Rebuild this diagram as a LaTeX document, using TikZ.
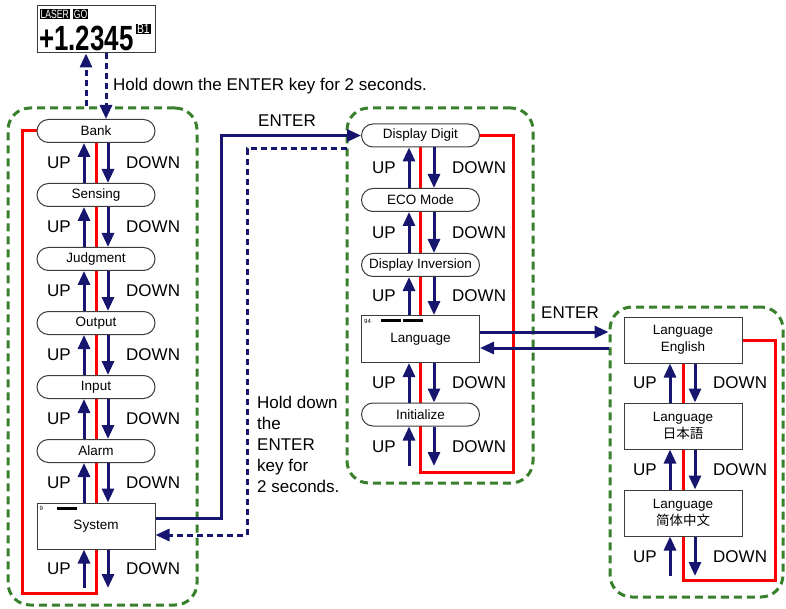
\documentclass[tikz,border=0pt]{standalone}
\usepackage{fontspec}
\setmainfont{Liberation Sans}
\newfontfamily\cjkjp{Noto Sans CJK JP}
\newfontfamily\cjksc{Noto Sans CJK SC}
\usetikzlibrary{arrows.meta,backgrounds,calc}
\definecolor{navy}{RGB}{22,22,110}
\definecolor{grn}{RGB}{56,128,44}
\definecolor{rd}{RGB}{255,0,0}
\definecolor{boxgray}{RGB}{60,60,60}
\tikzset{
  pill/.style={draw=boxgray, line width=1pt, fill=white, rounded corners=11.5pt,
    minimum width=118pt, minimum height=23pt, inner sep=0pt,
    font=\fontsize{13.5}{16}\selectfont},
  sq/.style={draw=boxgray, line width=1pt, fill=white, minimum width=118pt,
    minimum height=46pt, inner sep=0pt, align=center,
    font=\fontsize{13.5}{17}\selectfont},
  grp/.style={draw=grn, line width=3pt, dash pattern=on 8pt off 5pt,
    rounded corners=22pt, inner sep=0pt},
  nav/.style={navy, line width=3pt},
  tip/.style={-{Triangle[length=14pt,width=12pt]}},
  navdash/.style={navy, line width=3pt, dash pattern=on 6pt off 4pt},
  lbl/.style={font=\fontsize{17}{21}\selectfont, inner sep=0pt},
  redln/.style={rd, line width=3pt},
  inv/.style={fill=black, text=white, inner sep=0.8pt},
  tiny/.style={font=\fontsize{6}{6}\selectfont, inner sep=0pt},
  bar/.style={fill=black}
}
\begin{document}
\begin{tikzpicture}[x=1pt,y=-1pt]
\useasboundingbox (0,0) rectangle (786,609);

% group frames
\node[grp, minimum width=189pt, minimum height=497pt] (grpL) at (102.5,356.5) {};
\node[grp, minimum width=186pt, minimum height=375pt] (grpM) at (440,295.5) {};
\node[grp, minimum width=173pt, minimum height=290pt] (grpR) at (696.5,452) {};

% display
\node[draw=boxgray, line width=1pt, fill=white, minimum width=118pt, minimum height=47pt, inner sep=0pt] (disp) at (96,29.5) {};
\node[inv, anchor=north west] (laser) at ([shift={(3pt,-3.5pt)}]disp.north west) {\scalebox{0.72}[1]{\fontsize{12}{12}\selectfont LASER}};
\node[inv, anchor=west] (go) at ([xshift=3pt]laser.east) {\scalebox{0.72}[1]{\fontsize{12}{12}\selectfont GO}};
\node[anchor=base west, inner sep=0pt] (num) at (39,51) {\scalebox{0.74}[1]{\fontsize{35}{35}\selectfont\bfseries +1.2345}};
\node[inv, anchor=north west] (b1) at (136,23.5) {\scalebox{0.8}[1]{\fontsize{13}{13}\selectfont B1}};

% left column
\node[pill] (bank) at (96,131) {Bank};
\node[pill] (sens) at (96,195) {Sensing};
\node[pill] (judg) at (96,259) {Judgment};
\node[pill] (outp) at (96,323) {Output};
\node[pill] (inp)  at (96,387) {Input};
\node[pill] (alarm) at (96,451) {Alarm};
\node[sq] (sys) at (96,526) {System};
\node[tiny, anchor=north west] (s9) at ([shift={(3pt,-4pt)}]sys.north west) {9};
\fill[bar] ([shift={(20pt,-4pt)}]sys.north west) rectangle ++(20,3);
\coordinate (lbot) at (96,588);

% middle column
\node[pill] (dd) at (420.5,135.5) {Display Digit};
\node[pill] (eco) at (420.5,200) {ECO Mode};
\node[pill] (dinv) at (420.5,265) {Display Inversion};
\node[sq, minimum height=47pt] (lang) at (420.5,339) {Language};
\node[pill] (init) at (420.5,414.5) {Initialize};
\node[tiny, anchor=north west] (s94) at ([shift={(3pt,-4pt)}]lang.north west) {94};
\fill[bar] ([shift={(20pt,-4pt)}]lang.north west) rectangle ++(20,3);
\fill[bar] ([shift={(42pt,-4pt)}]lang.north west) rectangle ++(20,3);
\coordinate (mbot) at (420.5,466);

% right column
\node[sq] (le) at (683,340) {Language\\English};
\node[sq] (lj) at (683,426) {Language\\{\cjkjp 日本語}};
\node[sq] (lc) at (683,513) {Language\\{\cjksc 简体中文}};
\coordinate (rbot) at (683,576);

% red loops
\begin{pgfonlayer}{background}
\coordinate (lred) at (22,593);
\coordinate (mred) at (513,472);
\coordinate (rred) at (775,580);
\draw[redln] (bank.west) -| (lred) -| (bank.south);
\draw[redln] (dd.east) -| (mred) -| (dd.south);
\draw[redln] (le.east) -| (rred) -| (le.south);
\end{pgfonlayer}

% up/down pairs
\foreach \a/\b/\o/\p in {bank/sens/12/12, sens/judg/12/12, judg/outp/12/12, outp/inp/12/12,
    inp/alarm/12/12, alarm/sys/12/12, sys/lbot/12/12,
    dd/eco/11.5/13.5, eco/dinv/11.5/13.5, dinv/lang/11.5/13.5, lang/init/11.5/13.5, init/mbot/11.5/13.5,
    le/lj/13/12, lj/lc/13/12, lc/rbot/13/12}{
  \draw[nav, tip] ([xshift=-\o pt]\b.north) -- ([xshift=-\o pt]\a.south);
  \draw[nav, tip] ([xshift=\p pt]\a.south) -- ([xshift=\p pt]\b.north);
  \node[lbl, anchor=east] at ($([xshift=-\o pt-13pt]\a.south)!0.5!([xshift=-\o pt-13pt]\b.north)$) {UP};
  \node[lbl, anchor=west] at ($([xshift=\p pt+18pt]\a.south)!0.5!([xshift=\p pt+18pt]\b.north)$) {DOWN};
}

% display <-> bank
\draw[navdash, tip] ([xshift=-10pt]disp.south |- grpL.north) -- ([xshift=-10pt]disp.south);
\draw[navdash, tip] ([xshift=10pt]disp.south) -- ([xshift=10pt]bank.north);
\node[lbl, anchor=west] (holdtop) at (113,86) {Hold down the ENTER key for 2 seconds.};

% system <-> display digit
\draw[nav, tip] ([yshift=8pt]sys.east) -- ++(66,0) |- (dd.west);
\node[lbl] (enter1) at (287,121) {ENTER};
\coordinate (dstart) at (347,149);
\draw[navdash, tip] (dstart) -- ++(-100,0) |- ([yshift=-9pt]sys.east);
\node[lbl, anchor=north west, align=left] (hold2) at (257,396) {Hold down\\the\\ENTER\\key for\\2 seconds.};

% language <-> language group
\draw[nav, tip] ([yshift=7pt]lang.east) -- ([yshift=7pt]lang.east -| grpR.west);
\draw[nav, tip] ([yshift=-9pt]lang.east -| grpR.west) -- ([yshift=-9pt]lang.east);
\node[lbl] (enter2) at (570,313) {ENTER};
\end{tikzpicture}
\end{document}
